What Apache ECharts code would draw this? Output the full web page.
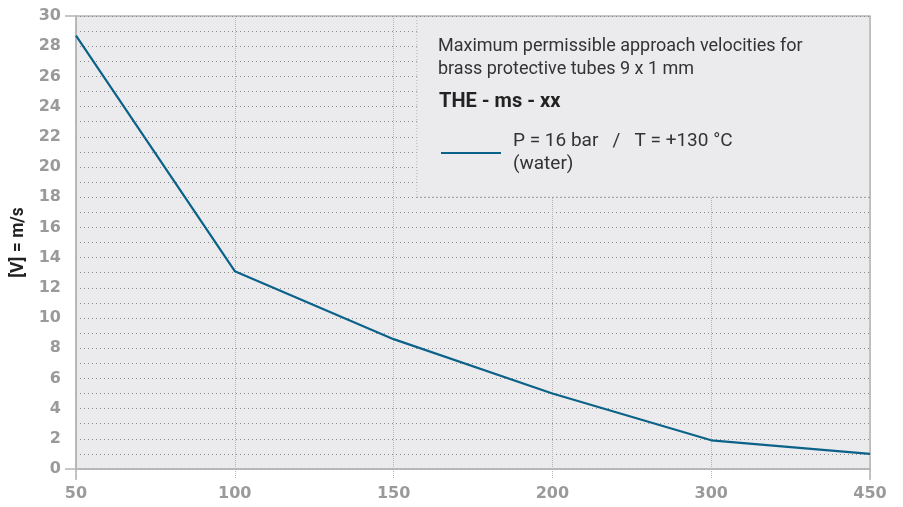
<!DOCTYPE html>
<html><head><meta charset="utf-8">
<script src="https://cdn.jsdelivr.net/npm/echarts@6/dist/echarts.min.js"></script>
<style>html,body{margin:0;padding:0;background:#fff}#c{width:903px;height:507px}</style>
</head><body><div id="c"></div>
<script>
const categories = ['50','100','150','200','300','450'];
const velocity = [28.7, 13.1, 8.6, 5.0, 1.9, 1.0];
const seriesName = 'P = 16 bar   /   T = +130 °C\n(water)';
const yTicks = {min:0, max:30, interval:2};

const chart = echarts.init(document.getElementById('c'));
const FONT = 'Roboto';
const TICKFONT = 'DejaVu Sans';
const G = {left:76, right:33, top:16, bottom:38};
chart.setOption({
  animation:false,
  textStyle:{fontFamily:FONT},
  grid:{left:G.left, right:G.right, top:G.top, bottom:G.bottom, outerBoundsMode:'none', containLabel:false,
    show:true, backgroundColor:'#ebebee', borderColor:'#b5b5b5', borderWidth:1.5},
  title:[
    {text:'Maximum permissible approach velocities for\nbrass protective tubes 9 x 1 mm', left:433, top:30, z:10,
     textStyle:{fontFamily:FONT, fontSize:18, fontWeight:'normal', color:'#333', lineHeight:23}},
    {text:'THE - ms - xx', left:434, top:87, z:10, textStyle:{fontFamily:FONT, fontSize:20, fontWeight:'bold', color:'#222'}}
  ],
  legend:{left:436, top:125, z:10, itemWidth:60, itemHeight:14, icon:'path://M0,6L60,6L60,8L0,8Z',
    data:[seriesName], textStyle:{fontFamily:FONT, fontSize:19, color:'#333', lineHeight:23, padding:[0,0,0,7]}},
  xAxis:{type:'category', data:categories, boundaryGap:false,
    axisLine:{show:true, lineStyle:{color:'#b5b5b5', width:1.5}},
    axisTick:{show:true, length:10, lineStyle:{color:'#b5b5b5', type:'dotted'}},
    axisLabel:{color:'#9a9a9a', fontSize:16, fontWeight:'bold', margin:17, fontFamily:TICKFONT},
    splitLine:{show:true, lineStyle:{color:'#b5b5b5', type:'dotted', width:1}}},
  yAxis:{type:'value', min:yTicks.min, max:yTicks.max, interval:yTicks.interval,
    name:'[V] = m/s', nameLocation:'middle', nameGap:45, nameRotate:90,
    nameTextStyle:{fontFamily:FONT, fontSize:17.5, fontWeight:'bold', color:'#222'},
    axisLine:{show:true, lineStyle:{color:'#b5b5b5', width:1.5}},
    axisTick:{show:false},
    axisLabel:{color:'#9a9a9a', fontSize:16, fontWeight:'bold', margin:15, fontFamily:TICKFONT},
    splitLine:{show:true, lineStyle:{color:'#8a8a8a', type:[1,3], width:1}},
    minorTick:{show:false, splitNumber:2},
    minorSplitLine:{show:true, lineStyle:{color:'#8a8a8a', type:[1,3], width:1}}},
  series:[{name:seriesName, type:'line', data:velocity, symbol:'none',
    lineStyle:{color:'#0b6289', width:2.2}, itemStyle:{color:'#0b6289'}}]
});

function drawExtras(){
  const top = chart.convertToPixel({yAxisIndex:0}, 30);
  const bottom = chart.convertToPixel({yAxisIndex:0}, 0);
  const boxBottom = chart.convertToPixel({yAxisIndex:0}, 18);
  const xl = chart.convertToPixel({xAxisIndex:0}, 0);
  const xr = chart.convertToPixel({xAxisIndex:0}, categories.length-1);
  const xs = xl + (xr-xl)*0.4293;
  chart.setOption({graphic:[
    {type:'rect', shape:{x:xs, y:top+1, width:xr-xs-1, height:boxBottom-top-1}, style:{fill:'#ebebee'}, z:1},
    {type:'line', shape:{x1:xs, y1:top+1, x2:xs, y2:boxBottom}, style:{stroke:'#b5b5b5', lineDash:[1,2], lineWidth:1}, z:2},
    {type:'line', shape:{x1:xs, y1:boxBottom, x2:xr, y2:boxBottom}, style:{stroke:'#8a8a8a', lineDash:[1,3], lineWidth:1}, z:2},
    {type:'line', shape:{x1:xl-11, y1:top, x2:xl, y2:top}, style:{stroke:'#b5b5b5', lineWidth:1.5}, z:2},
    {type:'line', shape:{x1:xl-11, y1:bottom, x2:xl, y2:bottom}, style:{stroke:'#b5b5b5', lineWidth:1.5}, z:2},
    {type:'line', shape:{x1:xl, y1:bottom, x2:xl, y2:bottom+11}, style:{stroke:'#b5b5b5', lineWidth:1.5}, z:2},
    {type:'line', shape:{x1:xr, y1:bottom, x2:xr, y2:bottom+11}, style:{stroke:'#b5b5b5', lineWidth:1.5}, z:2}
  ]});
}
drawExtras();
</script></body></html>
